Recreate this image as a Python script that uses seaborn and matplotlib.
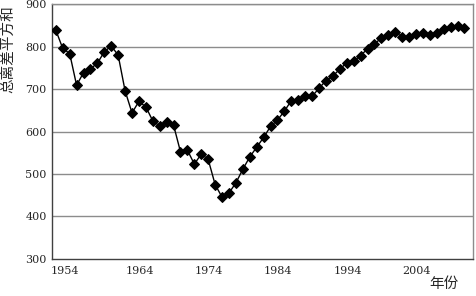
import matplotlib
matplotlib.use("Agg")
import matplotlib.pyplot as plt
import seaborn as sns
import numpy as np
import pandas as pd

years = list(range(1954, 2014))
values = [839, 796, 784, 709, 739, 748, 761, 788, 802, 780,
          696, 644, 671, 658, 625, 613, 623, 615, 552, 556,
          523, 547, 534, 475, 445, 455, 479, 511, 540, 563,
          586, 612, 627, 648, 673, 674, 683, 683, 702, 720,
          731, 747, 762, 766, 779, 795, 807, 820, 827, 835,
          823, 823, 829, 832, 828, 832, 842, 846, 848, 845]
label_years = [1954, 1964, 1974, 1984, 1994, 2004]
y_ticks = [300, 400, 500, 600, 700, 800, 900]
y_label = "总离差平方和"
x_label = "年份"

sns.set_style("white")
plt.rcParams['font.family'] = ['DejaVu Serif', 'Noto Sans CJK SC']

df = pd.DataFrame({"year": years, "value": values})

fig = plt.figure(figsize=(4.76, 2.96), dpi=100)
ax = fig.add_axes([0.110, 0.126, 0.8847, 0.8594])

for yv in y_ticks[1:]:
    ax.axhline(yv, color="#8c8c8c", lw=1.0, zorder=0)

sns.lineplot(data=df, x="year", y="value", ax=ax, color="black", lw=1.0,
             marker="D", markersize=4.8, markeredgecolor="black",
             markerfacecolor="black", zorder=3)

ax.set_xlim(1953.5, 2014.3)
ax.set_ylim(300, 900)
ax.set_yticks(y_ticks)
ax.set_yticklabels([str(v) for v in y_ticks], fontsize=8)
ax.tick_params(axis='y', length=0, pad=4)

ax.set_xticks(np.arange(1953.5, 2014, 5))
ax.set_xticklabels([])
ax.tick_params(axis='x', which='major', direction='in', length=3, color="#404040")
offsets = [1.3] + [2.1] * (len(label_years) - 1)
ax.set_xticks([y + o for y, o in zip(label_years, offsets)], minor=True)
ax.set_xticklabels([str(y) for y in label_years], minor=True, fontsize=8)
ax.tick_params(axis='x', which='minor', length=0, pad=5)

for s in ["left", "bottom"]:
    ax.spines[s].set_color("#404040")
    ax.spines[s].set_linewidth(1.0)
for s in ["top", "right"]:
    ax.spines[s].set_color("#8c8c8c")
    ax.spines[s].set_linewidth(1.0)

ax.set_xlabel("")
ax.set_ylabel("")
fig.text(0.018, 0.835, y_label, rotation=90, fontsize=10.5, ha="center", va="center",
         family=['Noto Sans CJK SC'])
fig.text(0.932, 0.018, x_label, fontsize=10.5, ha="center", va="bottom",
         family=['Noto Sans CJK SC'])

fig.savefig("out.png", dpi=100)
